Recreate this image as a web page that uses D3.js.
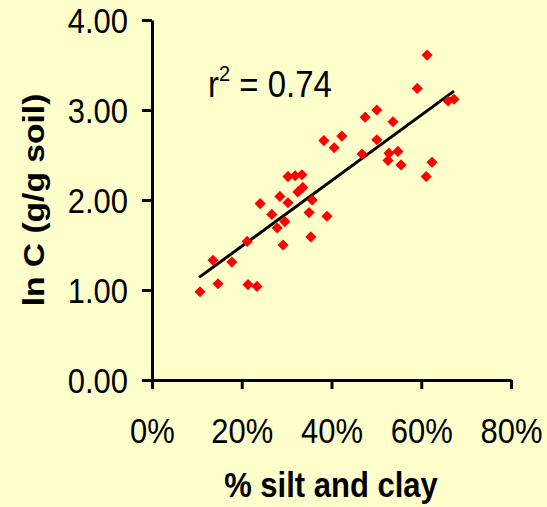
<!DOCTYPE html>
<html>
<head>
<meta charset="utf-8">
<script src="https://cdn.jsdelivr.net/npm/d3@7"></script>
<style>
  body { margin: 0; background: #ffffcc; }
  svg { display: block; }
  text { font-family: "Liberation Sans", Arial, sans-serif; fill: #000; }
</style>
</head>
<body>
<script>
// data
var siltClay = [10.7, 13.6, 14.7, 17.8, 21.2, 21.4, 23.4, 24.1, 26.7, 27.9,
  28.5, 29.2, 29.6, 30.3, 30.3, 31.9, 33.4, 32.5, 33.6, 35.7,
  35.0, 35.4, 39.0, 38.3, 40.6, 42.3, 46.8, 47.5, 50.1, 50.1,
  52.6, 52.8, 53.7, 54.8, 55.5, 59.1, 61.1, 61.3, 62.4, 66.0, 67.3];
var lnC = [0.98, 1.33, 1.07, 1.31, 1.54, 1.06, 1.04, 1.96, 1.84, 1.69,
  2.04, 1.50, 1.76, 1.97, 2.26, 2.27, 2.28, 2.09, 2.14, 2.00,
  1.86, 1.59, 1.82, 2.66, 2.58, 2.71, 2.51, 2.92, 3.00, 2.67,
  2.44, 2.52, 2.87, 2.54, 2.39, 3.24, 2.26, 3.61, 2.42, 3.10, 3.12];
var trendX = [10.5, 67.3];
var trendY = [1.14, 3.21];
var xTicks = [0, 20, 40, 60, 80];
var yTicks = [0, 1, 2, 3, 4];

var w = 547, h = 507;
var sy = 1.12; // text in the picture is a bit stretched vertically

var svg = d3.select("body").append("svg")
  .attr("width", w)
  .attr("height", h);

svg.append("rect").attr("width", w).attr("height", h).attr("fill", "#ffffcc");

var x = d3.scaleLinear().domain([0, 80]).range([152, 511]);
var y = d3.scaleLinear().domain([0, 4]).range([380, 20]);

// x axis
var xAxis = svg.append("g")
  .attr("transform", "translate(0,380)")
  .call(d3.axisBottom(x).tickValues(xTicks).tickSizeOuter(0).tickSizeInner(9)
    .tickFormat(function(d) { return d + "%"; }));

// y axis
var yAxis = svg.append("g")
  .attr("transform", "translate(152,0)")
  .call(d3.axisLeft(y).tickValues(yTicks).tickSizeOuter(0).tickSizeInner(10)
    .tickFormat(d3.format(".2f")));

svg.selectAll(".domain, .tick line")
  .attr("stroke", "#000")
  .attr("stroke-width", 3);
svg.selectAll(".tick text")
  .style("font-size", "31px")
  .style("font-family", "Liberation Sans, Arial, sans-serif")
  .attr("dy", 0)
  .attr("transform", "scale(1," + sy + ")");
xAxis.selectAll(".tick text").attr("y", 63 / sy);
yAxis.selectAll(".tick text").attr("x", -24).attr("y", 12 / sy);

// trend line
var line = d3.line()
  .x(function(d) { return x(d[0]); })
  .y(function(d) { return y(d[1]); });
svg.append("path")
  .datum(d3.zip(trendX, trendY))
  .attr("d", line)
  .attr("fill", "none")
  .attr("stroke", "#000")
  .attr("stroke-width", 3);

// points
var diamond = d3.symbol().type(d3.symbolSquare).size(62);
svg.append("g").selectAll("path")
  .data(d3.zip(siltClay, lnC))
  .enter().append("path")
  .attr("d", diamond)
  .attr("transform", function(d) { return "translate(" + x(d[0]) + "," + y(d[1]) + ") rotate(45)"; })
  .attr("fill", "#ff0000");

// r squared
var r2 = svg.append("text")
  .attr("transform", "translate(208,97) scale(1," + sy + ")")
  .style("font-size", "33px");
r2.append("tspan").text("r");
r2.append("tspan").attr("dy", -14).style("font-size", "20px").text("2");
r2.append("tspan").attr("dy", 14).text(" = 0.74");

// axis titles
svg.append("text")
  .attr("transform", "translate(331,497) scale(1," + sy + ")")
  .attr("text-anchor", "middle")
  .style("font-size", "31px")
  .style("font-weight", "bold")
  .text("% silt and clay");

svg.append("text")
  .attr("transform", "translate(44,200) rotate(-90) scale(" + sy + ",1)")
  .attr("text-anchor", "middle")
  .style("font-size", "30px")
  .style("font-weight", "bold")
  .text("ln C (g/g soil)");
</script>
</body>
</html>
